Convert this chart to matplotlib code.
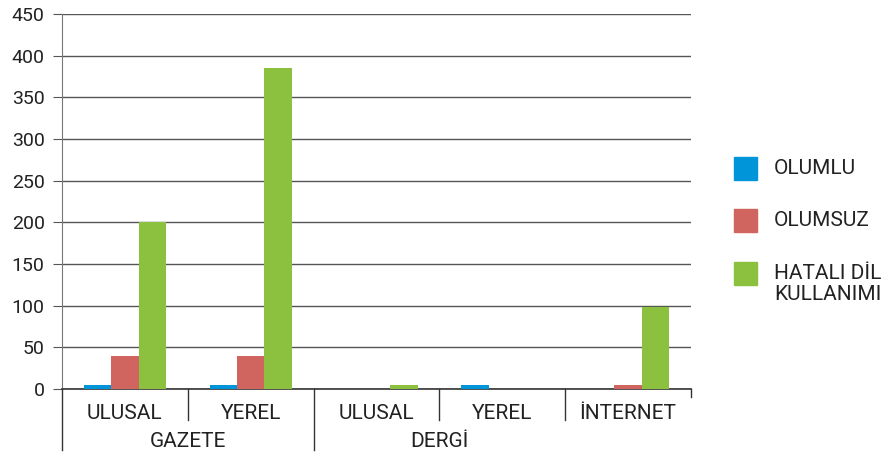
import numpy as np
import matplotlib
matplotlib.use('Agg')
import matplotlib.pyplot as plt
from matplotlib.patches import Rectangle

plt.rcParams['font.family'] = ['Roboto', 'DejaVu Sans']

categories = ['ULUSAL', 'YEREL', 'ULUSAL', 'YEREL', 'İNTERNET']
groups = ['GAZETE', 'DERGİ']
group_spans = [(0, 1), (2, 3)]
series = ['OLUMLU', 'OLUMSUZ', 'HATALI DİL\nKULLANIMI']
olumlu = [5, 5, 0, 5, 0]
olumsuz = [40, 40, 0, 0, 5]
hatali = [200, 385, 5, 0, 98]
colors = ['#0095d9', '#d0655f', '#8cc13f']
txt = '#222222'

W, H = 887, 459
fig = plt.figure(figsize=(W / 100, H / 100), dpi=100)
ax = fig.add_axes([62 / W, 1 - 389 / H, 629 / W, 375 / H])

x = np.arange(len(categories))
w = 0.218
for i, (vals, c, lab) in enumerate(zip([olumlu, olumsuz, hatali], colors, series)):
    ax.bar(x + (i - 1) * w, vals, w, color=c, label=lab, zorder=3)

ax.set_xlim(-0.5, len(categories) - 0.5)
ax.set_ylim(0, 450)
ax.set_yticks(np.arange(0, 451, 50))
ax.yaxis.grid(True, color='#555555', linewidth=1)
ax.tick_params(axis='y', length=6.5, color='#555555', labelsize=14, pad=6,
               labelcolor=txt)
ax.tick_params(axis='x', length=0)
ax.set_xticks([])
for s in ['top', 'right']:
    ax.spines[s].set_visible(False)
ax.spines['left'].set_color('#777777')
ax.spines['bottom'].set_color('#333333')
ax.spines['bottom'].set_linewidth(1.2)

trans = ax.get_xaxis_transform()
# category labels
for xi, lab in zip(x, categories):
    ax.text(xi, -0.066, lab, transform=trans, ha='center', va='center',
            fontsize=15, color=txt)
# group labels
for (a, b), g in zip(group_spans, groups):
    ax.text((a + b) / 2, -0.14, g, transform=trans, ha='center', va='center',
            fontsize=15, color=txt)
# separators
seps = {-0.5: -0.163, 0.5: -0.083, 1.5: -0.163, 2.5: -0.083, 3.5: -0.083, 4.5: -0.02}
for sx, sy in seps.items():
    ax.plot([sx, sx], [0, sy], transform=trans, color='#333333', lw=1,
            clip_on=False)

# legend, drawn by hand so the square lines up with the first text line
for i, (c, lab) in enumerate(zip(colors, series)):
    cy = 168 + i * 52.5
    fig.patches.append(Rectangle((734 / W, 1 - (cy + 11.5) / H), 23 / W, 23 / H,
                                 transform=fig.transFigure, color=c))
    fig.text(774 / W, 1 - (cy - 9) / H, lab, ha='left', va='top',
             fontsize=15, color=txt, linespacing=1.15)

fig.savefig('out.png', dpi=100)
